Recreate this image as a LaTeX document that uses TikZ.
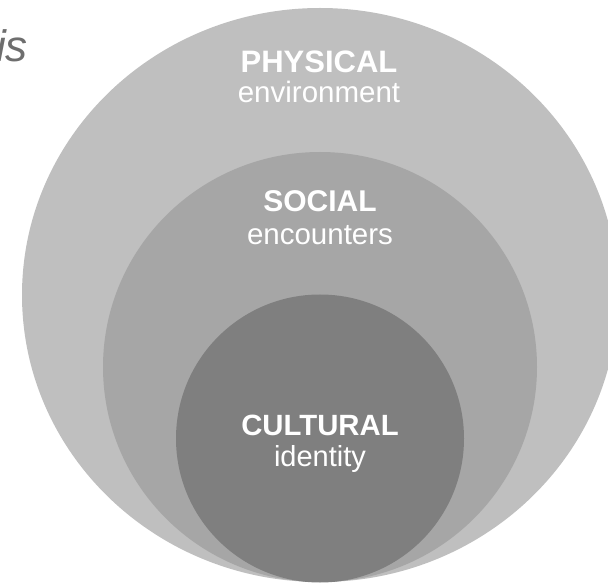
\documentclass[tikz,border=0pt]{standalone}
\usepackage{fontspec}
\setmainfont{Liberation Sans}
\definecolor{outerg}{HTML}{BFBFBF}
\definecolor{midg}{HTML}{A6A6A6}
\definecolor{innerg}{HTML}{7F7F7F}
\definecolor{isgray}{HTML}{6E6E6E}
\begin{document}
\begin{tikzpicture}[x=1pt,y=-1pt,
  headtxt/.style={anchor=base,text=white,inner sep=0pt,font=\bfseries\fontsize{#1}{#1}\selectfont},
  subtxt/.style={anchor=base,text=white,inner sep=0pt,font=\fontsize{#1}{#1}\selectfont}]
\useasboundingbox (0,0) rectangle (608,585);
\clip (0,0) rectangle (608,585);
\fill[outerg] (320,295) ellipse [x radius=298, y radius=287];
\fill[midg] (320,367) ellipse [x radius=217, y radius=215];
\fill[innerg] (320,438.5) circle [radius=144];
\node[headtxt=31] (phys) at (319,73) {PHYSICAL};
\node[subtxt=29.5] (env) at (319,103) {environment};
\node[headtxt=30] (soc) at (320,212) {SOCIAL};
\node[subtxt=29.5] (enc) at (320,245) {encounters};
\node[headtxt=29.3] (cult) at (320,435) {CULTURAL};
\node[subtxt=29] (ident) at (320,466) {identity};
\node[anchor=base east,inner sep=0pt,text=isgray,font=\itshape\fontsize{44}{44}\selectfont] (is) at (28,62) {is};
\end{tikzpicture}
\end{document}
